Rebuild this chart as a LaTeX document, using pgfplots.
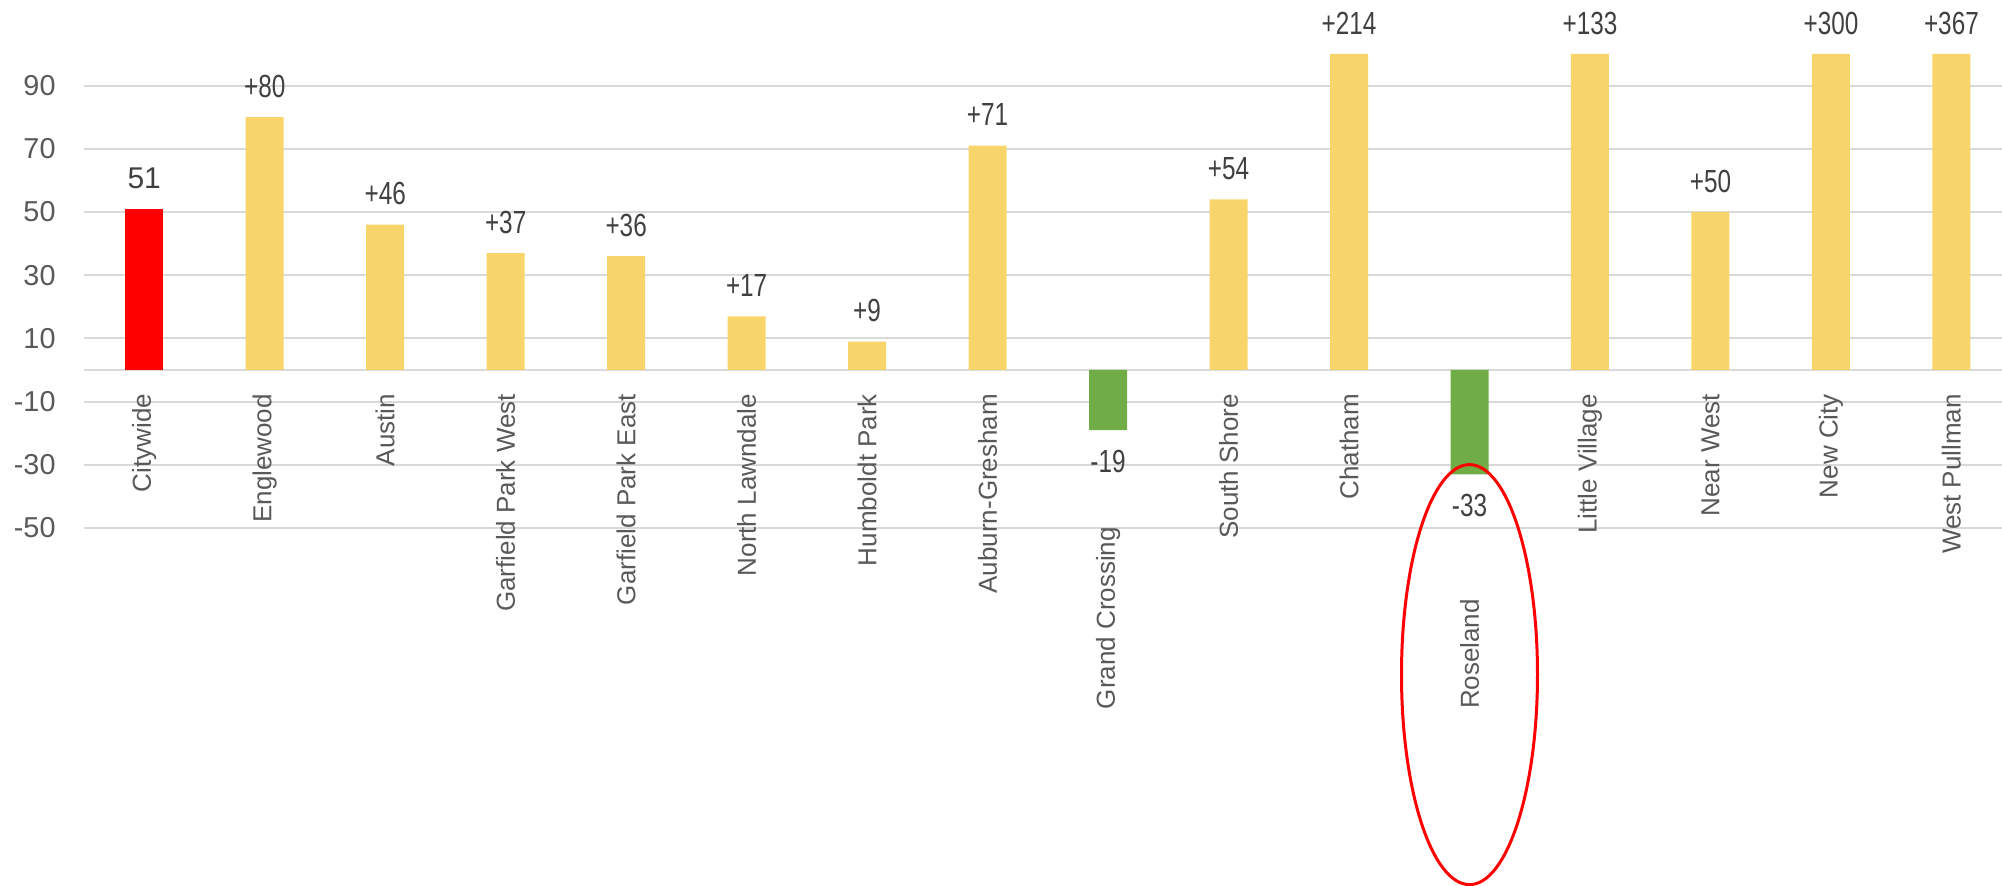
\documentclass[border=0pt]{standalone}
\usepackage{pgfplots}
\usepackage{pgfplotstable}
\pgfplotsset{compat=1.18}
\usepackage{fontspec}
\setmainfont{Liberation Sans}
\newfontfamily\narrow[FakeStretch=0.76]{Liberation Sans}
\definecolor{gridc}{HTML}{D9D9D9}
\definecolor{yel}{HTML}{F8D56B}
\definecolor{grn}{HTML}{70AD47}
\definecolor{txt}{HTML}{595959}
\definecolor{lab}{HTML}{404040}

% x = category index, v = value, h = drawn bar height (capped at 100)
\pgfplotstableread{
x v h lab
0 51 51 51
}\citywide
\pgfplotstableread{
x v h lab
1 80 80 +80
2 46 46 +46
3 37 37 +37
4 36 36 +36
5 17 17 +17
6 9 9 +9
7 71 71 +71
9 54 54 +54
10 214 100 +214
12 133 100 +133
13 50 50 +50
14 300 100 +300
15 367 100 +367
}\rise
\pgfplotstableread{
x v h lab
8 -19 -19 -19
11 -33 -33 -33
}\fall

\begin{document}
\begin{tikzpicture}
\useasboundingbox (-42pt,-179pt) rectangle (959pt,264pt);
\begin{axis}[
  at={(0pt,0pt)}, anchor=south west,
  scale only axis, width=959pt, height=237pt,
  xmin=-0.5, xmax=15.42, ymin=-50, ymax=100,
  axis line style={draw=none},
  major tick length=0pt,
  ytick={-50,-30,...,90},
  ymajorgrids, grid style={gridc, line width=1pt},
  extra y ticks={0}, extra y tick labels={},
  extra y tick style={grid=major, major grid style={gridc, line width=1.4pt}},
  yticklabel style={font=\fontsize{14.4}{14.4}\selectfont, text=txt, xshift=-10.7pt},
  xtick={0,...,15},
  xticklabels={Citywide, Englewood, Austin, Garfield Park West, Garfield Park East, North Lawndale, Humboldt Park, Auburn-Gresham, Grand Crossing\hspace*{66.5pt}, South Shore, Chatham, Roseland\hspace*{102.5pt}, Little Village, Near West, New City, West Pullman},
  xticklabel style={font=\fontsize{13}{13}\selectfont, text=txt, yshift=70.5pt, rotate=90, anchor=east},
  ybar, bar width=19pt, bar shift=0pt,
  clip=false,
  /pgf/number format/assume math mode=true,
  nodes near coords style={font=\narrow\fontsize{16}{16}\selectfont, text=lab, anchor=center},
]
\addplot[fill=red, draw=none, nodes near coords, point meta=explicit symbolic,
  nodes near coords style={yshift=15.5pt, font=\fontsize{15}{15}\selectfont}]
  table[x=x, y=h, meta=lab] {\citywide};
\addplot[fill=yel, draw=none, nodes near coords, point meta=explicit symbolic,
  nodes near coords style={yshift=15.5pt}]
  table[x=x, y=h, meta=lab] {\rise};
\addplot[fill=grn, draw=none, nodes near coords, point meta=explicit symbolic,
  nodes near coords style={yshift=-15.5pt}]
  table[x=x, y=h, meta=lab] {\fall};
\draw[red, line width=1.5pt] (axis cs:11,-96.4) ellipse [x radius=34pt, y radius=105pt];
\end{axis}
\end{tikzpicture}
\end{document}
